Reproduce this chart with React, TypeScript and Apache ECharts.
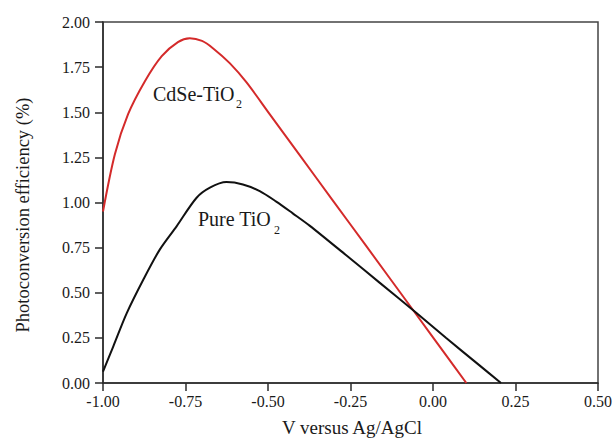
import React, { useEffect, useRef } from "react";
import * as echarts from "echarts";

// V versus Ag/AgCl (x) and photoconversion efficiency % (y)
const cdseX = [-1.0, -0.964, -0.924, -0.873, -0.822, -0.773, -0.737, -0.7, -0.667, -0.616, -0.565, -0.495, -0.404, -0.305, -0.202, -0.05, 0.041, 0.101];
const cdseY = [0.95, 1.267, 1.489, 1.672, 1.811, 1.889, 1.91, 1.895, 1.855, 1.772, 1.665, 1.49, 1.262, 1.015, 0.758, 0.378, 0.15, 0.0];

const pureX = [-1.0, -0.969, -0.928, -0.878, -0.828, -0.777, -0.717, -0.676, -0.626, -0.576, -0.525, -0.475, -0.425, -0.374, -0.262, -0.162, -0.05, 0.04, 0.14, 0.206];
const pureY = [0.063, 0.202, 0.387, 0.572, 0.739, 0.868, 1.025, 1.082, 1.113, 1.1, 1.063, 1.005, 0.94, 0.872, 0.706, 0.556, 0.388, 0.249, 0.099, 0.0];

const xTicks = [-1.0, -0.75, -0.5, -0.25, 0.0, 0.25, 0.5];
const yTicks = [0, 0.25, 0.5, 0.75, 1.0, 1.25, 1.5, 1.75, 2.0];

const FONT = "'Liberation Serif', 'Times New Roman', serif";

export default function App() {
  const ref = useRef<HTMLDivElement>(null);
  useEffect(() => {
    if (!ref.current) return;
    const chart = echarts.init(ref.current, null, { renderer: "svg" });
    const axisCommon = {
      axisLine: { show: true, onZero: false, lineStyle: { color: "#2b2b2b", width: 1.5 } },
      axisTick: { show: true, inside: false, length: 8, lineStyle: { color: "#2b2b2b", width: 1.5 } },
      splitLine: { show: false },
    };
    chart.setOption({
      animation: false,
      backgroundColor: "#ffffff",
      grid: { left: 103, right: 16, top: 22, bottom: 56, show: true, borderColor: "#444", borderWidth: 1.5, backgroundColor: "transparent" },
      xAxis: {
        type: "value",
        min: xTicks[0],
        max: xTicks[xTicks.length - 1],
        interval: 0.25,
        ...axisCommon,
        axisLabel: { fontFamily: FONT, fontSize: 16, color: "#1a1a1a", margin: 10, formatter: (v: number) => v.toFixed(2) },
      },
      yAxis: {
        type: "value",
        min: yTicks[0],
        max: yTicks[yTicks.length - 1],
        interval: 0.25,
        ...axisCommon,
        axisLabel: { fontFamily: FONT, fontSize: 16, color: "#1a1a1a", margin: 13, formatter: (v: number) => v.toFixed(2) },
      },
      series: [
        {
          name: "CdSe-TiO2",
          type: "line",
          data: cdseX.map((x, i) => [x, cdseY[i]]),
          smooth: 0.3,
          showSymbol: false,
          lineStyle: { color: "#d42a2a", width: 2 },
        },
        {
          name: "Pure TiO2",
          type: "line",
          data: pureX.map((x, i) => [x, pureY[i]]),
          smooth: 0.3,
          showSymbol: false,
          lineStyle: { color: "#111111", width: 2 },
        },
      ],
      graphic: [
        { type: "text", x: 153, y: 93.5, style: { text: "CdSe-TiO", fontFamily: FONT, fontSize: 20, fill: "#1a1a1a", verticalAlign: "middle", align: "left" } },
        { type: "text", x: 236, y: 104, style: { text: "2", fontFamily: FONT, fontSize: 12, fill: "#1a1a1a", verticalAlign: "middle", align: "left" } },
        { type: "text", x: 198, y: 219, style: { text: "Pure TiO", fontFamily: FONT, fontSize: 20, fill: "#1a1a1a", verticalAlign: "middle", align: "left" } },
        { type: "text", x: 274, y: 230, style: { text: "2", fontFamily: FONT, fontSize: 12, fill: "#1a1a1a", verticalAlign: "middle", align: "left" } },
        { type: "text", x: 352, y: 427, style: { text: "V versus Ag/AgCl", fontFamily: FONT, fontSize: 19, fill: "#1a1a1a", verticalAlign: "middle", align: "center" } },
        { type: "text", x: 23, y: 215, rotation: Math.PI / 2, style: { text: "Photoconversion efficiency (%)", fontFamily: FONT, fontSize: 18.5, fill: "#1a1a1a", verticalAlign: "middle", align: "center" } },
      ],
    });
    return () => chart.dispose();
  }, []);
  return <div ref={ref} style={{ position: "fixed", left: 0, top: 0, width: 615, height: 439 }} />;
}
